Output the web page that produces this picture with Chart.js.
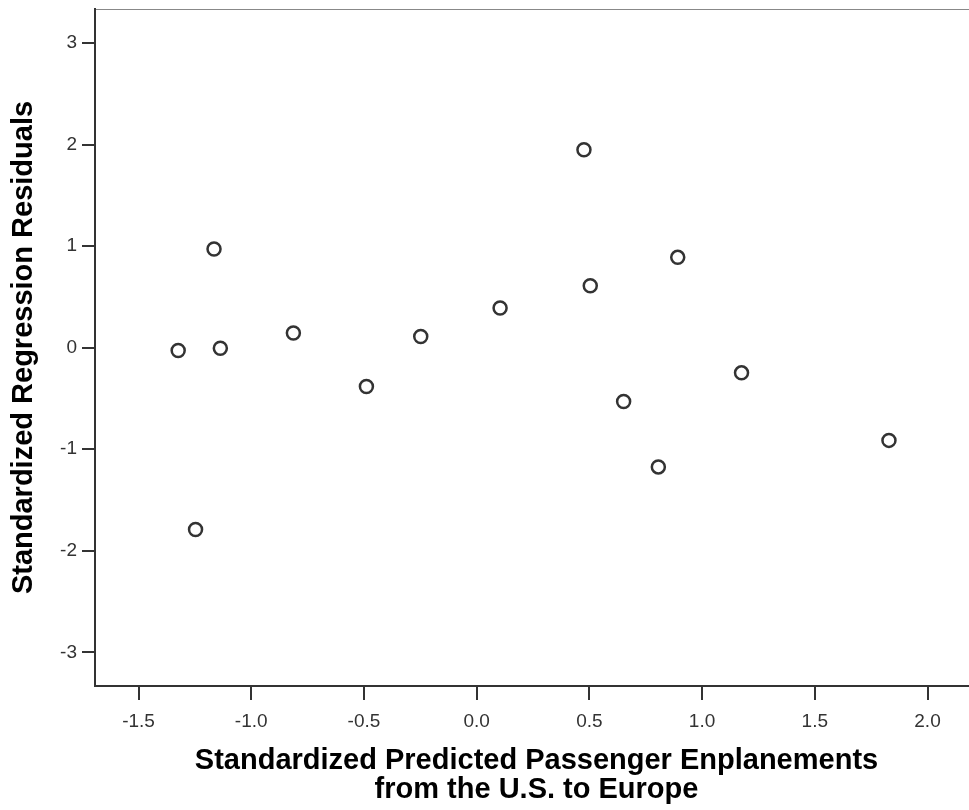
<!DOCTYPE html>
<html>
<head>
<meta charset="utf-8">
<script src="https://cdn.jsdelivr.net/npm/chart.js@4/dist/chart.umd.min.js"></script>
<style>
  html, body { margin: 0; padding: 0; background: #fff; overflow: hidden; }
  #wrap { width: 987px; height: 810px; position: relative; }
</style>
</head>
<body>
<div id="wrap"><canvas id="residChart"></canvas></div>
<script>
// standardized predicted values (x) and standardized residuals (y)
const predicted = [-1.324, -1.165, -1.137, -1.247, -0.813, -0.489, -0.248, 0.104, 0.476, 0.504, 0.652, 0.892, 0.806, 1.175, 1.829];
const residuals = [-0.028, 0.971, -0.006, -1.79, 0.145, -0.383, 0.109, 0.391, 1.948, 0.609, -0.53, 0.889, -1.174, -0.248, -0.913];

const xTitle = ['Standardized Predicted Passenger Enplanements', 'from the U.S. to Europe'];
const yTitle = 'Standardized Regression Residuals';

const points = predicted.map((x, i) => ({ x: x, y: residuals[i] }));

const axisColor = '#333';
const fontFamily = '"Liberation Sans", Arial, sans-serif';

new Chart(document.getElementById('residChart'), {
  type: 'scatter',
  data: {
    datasets: [{
      data: points,
      pointStyle: 'circle',
      pointRadius: 6.5,
      pointBorderWidth: 2.5,
      pointBorderColor: '#333',
      pointBackgroundColor: 'rgba(255,255,255,0)'
    }]
  },
  options: {
    responsive: true,
    maintainAspectRatio: false,
    animation: false,
    layout: { padding: { top: 8, right: 0, left: 0, bottom: 0 } },
    plugins: { legend: { display: false }, tooltip: { enabled: false } },
    scales: {
      x: {
        type: 'linear',
        position: 'bottom',
        min: -1.693,
        max: 2.224,
        afterFit: (scale) => {
          scale.height = 124;
          scale.paddingLeft = 0;
          scale.paddingRight = 0;
        },
        border: { color: axisColor, width: 2 },
        grid: { drawOnChartArea: false, tickLength: 14, color: axisColor, lineWidth: 2 },
        ticks: {
          stepSize: 0.5,
          includeBounds: false,
          padding: 10,
          color: '#333',
          font: { family: fontFamily, size: 19 },
          callback: (v) => Number(v).toFixed(1)
        },
        title: {
          display: true,
          text: xTitle,
          color: '#000',
          font: { family: fontFamily, size: 29, weight: 'bold', lineHeight: 1.02 },
          padding: { top: 0, bottom: 5 }
        }
      },
      x2: {
        type: 'linear',
        axis: 'x',
        position: 'top',
        min: -1.693,
        max: 2.224,
        afterFit: (scale) => { scale.height = 0; },
        border: { color: '#888', width: 1 },
        grid: { display: false, drawTicks: false },
        ticks: { display: false }
      },
      y: {
        type: 'linear',
        position: 'left',
        min: -3.331,
        max: 3.334,
        afterFit: (scale) => {
          scale.width = 95;
          scale.paddingTop = 0;
          scale.paddingBottom = 0;
        },
        border: { color: axisColor, width: 2 },
        grid: { drawOnChartArea: false, tickLength: 13, color: axisColor, lineWidth: 2 },
        ticks: {
          stepSize: 1,
          includeBounds: false,
          padding: 5,
          color: '#333',
          font: { family: fontFamily, size: 19 },
          callback: (v) => String(v)
        },
        title: {
          display: true,
          text: yTitle,
          color: '#000',
          font: { family: fontFamily, size: 29, weight: 'bold', lineHeight: 1.02 },
          padding: { top: 9, bottom: 0 }
        }
      }
    }
  }
});
</script>
</body>
</html>
